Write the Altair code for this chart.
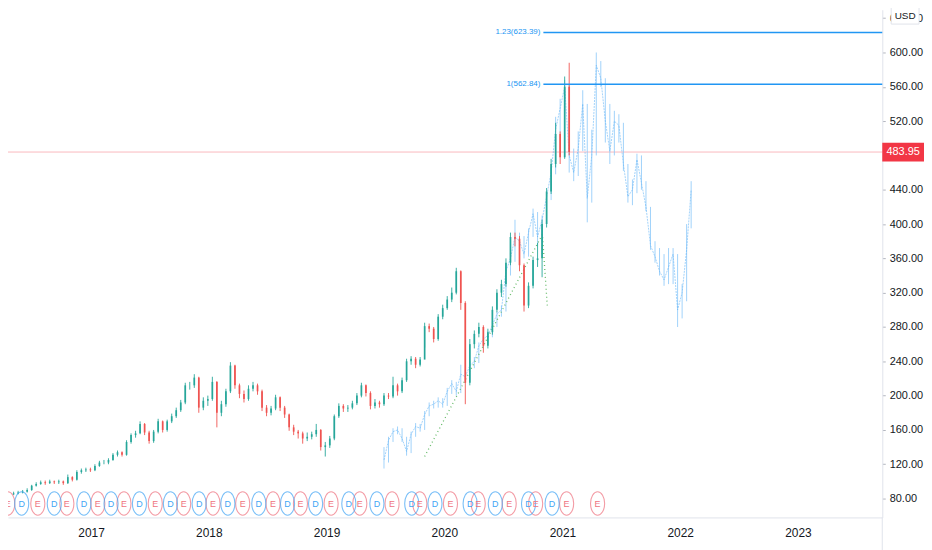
import altair as alt
import pandas as pd

# ---------------- data ----------------
first_open = 85
closes = [86, 87, 88, 90, 95, 97, 99, 98, 100, 99,
          100, 98, 105, 102, 111, 113, 114, 113, 118, 122,
          122, 125, 131, 134, 131, 146, 154, 156, 167, 157,
          147, 158, 170, 160, 170, 176, 183, 192, 212, 212,
          221, 186, 194, 196, 216, 180, 190, 205, 235, 212,
          202, 196, 208, 212, 205, 186, 180, 185, 198, 186,
          178, 163, 158, 156, 150, 152, 155, 160, 140, 142,
          150, 176, 188, 185, 186, 191, 200, 212, 203, 188,
          192, 190, 200, 199, 212, 205, 218, 240, 243, 236,
          242, 281, 278, 266, 292, 302, 312, 320, 345, 308,
          215, 260, 272, 280, 258, 274, 300, 320, 330, 355,
          385, 383, 352, 305, 328, 358, 360, 400, 438, 470,
          505, 478, 560, 483.95]
highs = [88, 89, 90, 92, 96, 99, 101, 101, 102, 101,
         102, 101, 108, 106, 113, 115, 116, 116, 120, 124,
         125, 127, 133, 136, 135, 148, 156, 159, 170, 168,
         159, 160, 173, 171, 172, 179, 186, 195, 215, 216,
         225, 222, 198, 200, 222, 217, 194, 208, 239, 236,
         214, 206, 212, 216, 214, 207, 189, 188, 201, 199,
         188, 179, 166, 160, 158, 157, 158, 167, 161, 146,
         153, 178, 191, 190, 189, 194, 203, 215, 213, 205,
         196, 194, 203, 203, 222, 214, 221, 243, 246, 245,
         245, 285, 284, 280, 295, 306, 316, 326, 349, 346,
         310, 266, 276, 285, 282, 278, 304, 324, 335, 360,
         390, 390, 386, 354, 332, 362, 378, 405, 442, 476,
         518, 508, 572, 588]
lows = [84, 85, 86, 87, 89, 94, 96, 96, 97, 97,
        97, 96, 97, 100, 101, 109, 111, 111, 112, 117,
        120, 120, 124, 129, 129, 130, 144, 151, 155, 154,
        144, 145, 156, 157, 158, 168, 174, 181, 190, 207,
        209, 180, 183, 188, 194, 163, 176, 187, 203, 208,
        197, 192, 194, 205, 201, 182, 176, 177, 183, 182,
        174, 159, 154, 150, 144, 147, 149, 152, 136, 129,
        139, 148, 174, 181, 181, 184, 189, 198, 199, 184,
        185, 186, 188, 196, 197, 200, 203, 216, 236, 232,
        234, 256, 274, 262, 264, 289, 300, 309, 318, 300,
        190, 212, 255, 268, 250, 255, 271, 297, 315, 327,
        352, 374, 345, 298, 302, 325, 350, 338, 396, 435,
        466, 470, 476, 480]

# projected (bars pattern) series
blue_close = [125, 148, 158, 160, 150, 135, 155, 164, 162, 178,
              188, 190, 194, 190, 205, 214, 205, 225, 222, 235,
              240, 258, 266, 270, 282, 295, 300, 345, 360, 385,
              380, 365, 390, 412, 385, 405, 432, 460, 510, 535,
              560, 480, 460, 488, 540, 430, 480, 585, 570, 520,
              485, 520, 515, 470, 432, 440, 475, 448, 420, 375,
              362, 345, 335, 350, 365, 300, 320, 370, 440]
blue_high = [140, 152, 162, 164, 162, 152, 158, 168, 167, 182,
             192, 194, 198, 197, 209, 218, 216, 236, 230, 240,
             245, 262, 270, 275, 286, 298, 305, 350, 366, 405,
             390, 386, 395, 418, 414, 410, 436, 466, 525, 546,
             568, 562, 488, 508, 556, 540, 510, 600, 590, 570,
             540, 532, 528, 518, 470, 452, 482, 480, 450, 420,
             380, 372, 365, 372, 372, 365, 330, 400, 450]
blue_low = [115, 122, 146, 155, 146, 130, 133, 152, 158, 160,
            176, 185, 186, 186, 188, 202, 200, 203, 215, 218,
            232, 238, 255, 262, 268, 280, 292, 298, 340, 356,
            368, 360, 362, 385, 375, 380, 400, 428, 458, 505,
            530, 460, 450, 456, 485, 402, 425, 480, 560, 495,
            470, 480, 495, 462, 425, 422, 436, 440, 415, 370,
            355, 340, 328, 330, 330, 280, 290, 310, 395]

earn_dates = ["2016-04-18", "2016-07-20", "2016-10-18", "2017-01-22", "2017-04-13",
              "2017-07-19", "2017-10-15", "2018-01-14", "2018-04-16", "2018-07-19",
              "2018-10-12", "2019-01-15", "2019-04-14", "2019-07-23", "2019-10-17",
              "2020-01-20", "2020-04-15", "2020-07-20", "2020-10-10", "2021-01-14",
              "2021-04-20"]
div_dates = ["2016-05-31", "2016-09-09", "2016-12-10", "2017-03-04", "2017-05-31",
             "2017-09-04", "2017-12-02", "2018-03-01", "2018-06-05", "2018-09-02",
             "2018-11-28", "2019-03-11", "2019-06-06", "2019-09-22", "2019-12-03",
             "2020-03-21", "2020-06-07", "2020-09-18", "2020-11-30"]

proj_dates = ["2019-11-01", "2020-10-31", "2020-11-15"]
proj_prices = [129, 388, 305]

fib_levels = [623.39, 562.84]
fib_labels = ["1.23(623.39)", "1(562.84)"]
fib_start = "2020-11-03"
last_price = 483.95
last_label = "483.95"
year_ticks = [2017, 2018, 2019, 2020, 2021, 2022, 2023]
price_ticks = [80, 120, 160, 200, 240, 280, 320, 360, 400, 440, 520, 560, 600, 640]
currency = "USD"

# ---------------- tables ----------------
grid = pd.date_range("2016-05-06", periods=151, freq="14D")
candles = pd.DataFrame({
    "date": grid[:len(closes)],
    "open": [first_open] + closes[:-1],
    "close": closes,
    "high": highs,
    "low": lows,
})
candles["up"] = candles["close"] >= candles["open"]
blue = pd.DataFrame({
    "date": grid[82:82 + len(blue_close)],
    "close": blue_close, "high": blue_high, "low": blue_low,
})
earn = pd.DataFrame({"date": pd.to_datetime(earn_dates), "t": "E"})
divs = pd.DataFrame({"date": pd.to_datetime(div_dates), "t": "D"})
proj = pd.DataFrame({"date": pd.to_datetime(proj_dates), "price": proj_prices})
fib = pd.DataFrame({"date": pd.to_datetime([fib_start] * 2), "price": fib_levels, "label": fib_labels})
last = pd.DataFrame({"price": [last_price], "label": [last_label]})
badge = pd.DataFrame({"label": [currency]})

W, H = 880, 511
FONT = "Liberation Sans"

xscale = alt.Scale(domain=[alt.DateTime(year=2016, month=5, date=4),
                           alt.DateTime(year=2023, month=9, date=4)])
yscale = alt.Scale(domain=[58.0, 649.8], zero=False, nice=False)
xaxis = alt.Axis(values=[alt.DateTime(year=y, month=1, date=1) for y in year_ticks],
                 format="%Y", title=None, grid=False, ticks=False,
                 domainColor="#e0e3eb", labelFontSize=12, labelColor="#131722",
                 labelFont=FONT, labelPadding=10, labelFlush=False)
yaxis = alt.Axis(orient="right", values=price_ticks, format=".2f", title=None, grid=False,
                 tickSize=3, tickColor="#b2b5be", domainColor="#e0e3eb",
                 labelFontSize=11, labelColor="#131722", labelFont=FONT, labelPadding=4)


def X(field="date"):
    return alt.X(f"{field}:T", scale=xscale, axis=xaxis)


def Y(field):
    return alt.Y(f"{field}:Q", scale=yscale, axis=yaxis)


price_line = alt.Chart(last).mark_rule(color="#f23645", opacity=0.35, strokeWidth=1).encode(y=Y("price"))

blue_rules = alt.Chart(blue).mark_rule(color="#90caf9", strokeWidth=1, opacity=0.85, clip=True).encode(
    x=X(), y=Y("low"), y2="high")
blue_line = alt.Chart(blue).mark_line(color="#64b5f6", strokeWidth=1, opacity=0.6,
                                      strokeDash=[2, 1], clip=True).encode(x=X(), y=Y("close"))

proj_line = alt.Chart(proj).mark_line(color="#4caf50", strokeWidth=1.3, strokeDash=[1, 3],
                                      opacity=0.85).encode(x=X(), y=Y("price"))

wick_up = alt.Chart(candles).transform_filter("datum.up").mark_rule(
    color="#26a69a", strokeWidth=0.9, clip=True).encode(x=X(), y=Y("low"), y2="high")
wick_dn = alt.Chart(candles).transform_filter("!datum.up").mark_rule(
    color="#ef5350", strokeWidth=0.9, clip=True).encode(x=X(), y=Y("low"), y2="high")
body_up = alt.Chart(candles).transform_filter("datum.up").mark_bar(
    color="#26a69a", width=1.7, clip=True).encode(x=X(), y=Y("open"), y2="close")
body_dn = alt.Chart(candles).transform_filter("!datum.up").mark_bar(
    color="#ef5350", width=1.7, clip=True).encode(x=X(), y=Y("open"), y2="close")

fib_rules = alt.Chart(fib).mark_rule(color="#2196f3", strokeWidth=1.5).encode(
    x=X(), x2=alt.value(W), y=Y("price"))
fib_text = alt.Chart(fib).mark_text(align="right", baseline="middle", dx=-3, fontSize=8,
                                    color="#2196f3", font=FONT).encode(x=X(), y=Y("price"), text="label:N")

ELLIPSE = "M0,-1 A0.6,1 0 1,1 0,1 A0.6,1 0 1,1 0,-1 Z"
MY = 497
earn_pt = alt.Chart(earn).mark_point(shape=ELLIPSE, size=560, filled=False, strokeWidth=1.1,
                                     color="#ef7380", clip=True).encode(x=X(), y=alt.value(MY))
earn_tx = alt.Chart(earn).mark_text(fontSize=9, color="#ef7380", font=FONT, clip=True).encode(
    x=X(), y=alt.value(MY), text="t:N")
div_pt = alt.Chart(divs).mark_point(shape=ELLIPSE, size=560, filled=False, strokeWidth=1.1,
                                    color="#42a5f5", clip=True).encode(x=X(), y=alt.value(MY))
div_tx = alt.Chart(divs).mark_text(fontSize=9, color="#42a5f5", font=FONT, clip=True).encode(
    x=X(), y=alt.value(MY), text="t:N")

RECT = "M-1,-0.45 L1,-0.45 L1,0.45 L-1,0.45 Z"
last_box = alt.Chart(last).mark_point(shape=RECT, size=1764, filled=True, opacity=1,
                                      color="#f23645").encode(x=alt.value(W + 21), y=Y("price"))
last_tx = alt.Chart(last).mark_text(fontSize=11, color="white", font=FONT, align="center",
                                    baseline="middle").encode(x=alt.value(W + 21), y=Y("price"), text="label:N")

sep = alt.Chart(last).mark_rule(color="#e0e3eb").encode(x=alt.value(W), y=alt.value(H), y2=alt.value(H + 40))

BADGE = "M-1,-0.6 L1,-0.6 L1,0.6 L-1,0.6 Z"
badge_box = alt.Chart(badge).mark_point(shape=BADGE, size=784, filled=False, fill="white",
                                        stroke="#e0e3eb", strokeWidth=1, opacity=1).encode(
    x=alt.value(W + 23), y=alt.value(6))
badge_tx = alt.Chart(badge).mark_text(fontSize=10, color="#131722", font=FONT).encode(
    x=alt.value(W + 23), y=alt.value(6), text="label:N")

chart = alt.layer(
    price_line, blue_rules, blue_line, proj_line,
    wick_up, wick_dn, body_up, body_dn,
    fib_rules, fib_text,
    earn_pt, div_pt, earn_tx, div_tx,
    last_box, last_tx, sep, badge_box, badge_tx,
).properties(
    width=W, height=H,
    autosize=alt.AutoSizeParams(type="none"),
    padding={"left": 0, "top": 0, "right": 42, "bottom": 31},
    background="white",
).configure_view(stroke=None)

chart.save("out.html", embed_options={"renderer": "svg", "actions": False})
